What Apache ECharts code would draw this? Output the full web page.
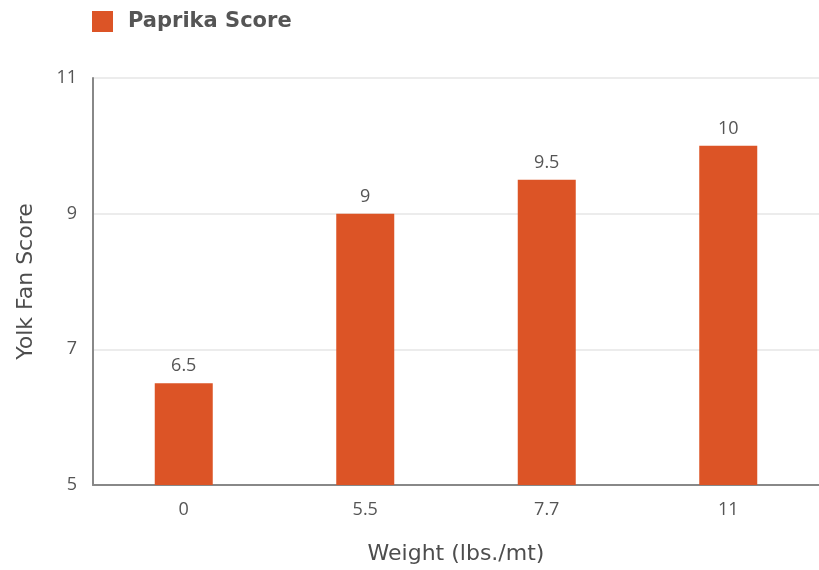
<!DOCTYPE html>
<html>
<head>
<meta charset="utf-8">
<script src="https://cdn.jsdelivr.net/npm/echarts@6/dist/echarts.min.js"></script>
<style>
  html, body { margin: 0; padding: 0; background: #fff; }
  #chart { width: 819px; height: 570px; }
</style>
</head>
<body>
<div id="chart"></div>
<script>
const weights = ['0', '5.5', '7.7', '11']
const paprikaScore = [6.5, 9, 9.5, 10]
const yTicks = { min: 5, max: 11, interval: 2 }

const nameFont = '"DejaVu Sans", sans-serif'

const chart = echarts.init(document.getElementById('chart'))
chart.setOption({
  animation: false,
  textStyle: { fontFamily: '"Open Sans", sans-serif' },
  legend: {
    left: 87,
    top: 6,
    itemWidth: 21,
    itemHeight: 21,
    itemGap: 15,
    icon: 'rect',
    textStyle: {
      fontSize: 21,
      fontWeight: 'bold',
      color: '#555',
      fontFamily: nameFont,
      padding: [0, 0, 0, 10],
    },
    data: ['Paprika Score'],
  },
  grid: { left: 93, right: 0, top: 78, bottom: 76 },
  xAxis: {
    type: 'category',
    data: weights,
    name: 'Weight (lbs./mt)',
    nameLocation: 'middle',
    nameGap: 58,
    nameTextStyle: { fontSize: 22, color: '#4d4d4d', fontFamily: nameFont },
    axisLine: { lineStyle: { color: '#888', width: 2 } },
    axisTick: { show: false },
    axisLabel: { fontSize: 18, color: '#555', margin: 16 },
  },
  yAxis: {
    type: 'value',
    min: yTicks.min,
    max: yTicks.max,
    interval: yTicks.interval,
    name: 'Yolk Fan Score',
    nameLocation: 'middle',
    nameGap: 56,
    nameTextStyle: { fontSize: 22, color: '#4d4d4d', fontFamily: nameFont },
    axisLine: { show: true, lineStyle: { color: '#888', width: 2 } },
    axisTick: { show: false },
    axisLabel: { fontSize: 18, color: '#555', margin: 16 },
    splitLine: { lineStyle: { color: '#e6e6e6', width: 1.5 } },
  },
  series: [
    {
      name: 'Paprika Score',
      type: 'bar',
      data: paprikaScore,
      barWidth: 58,
      itemStyle: { color: '#dc5426' },
      label: { show: true, position: 'top', fontSize: 18, color: '#555', distance: 8 },
    },
  ],
})
</script>
</body>
</html>
